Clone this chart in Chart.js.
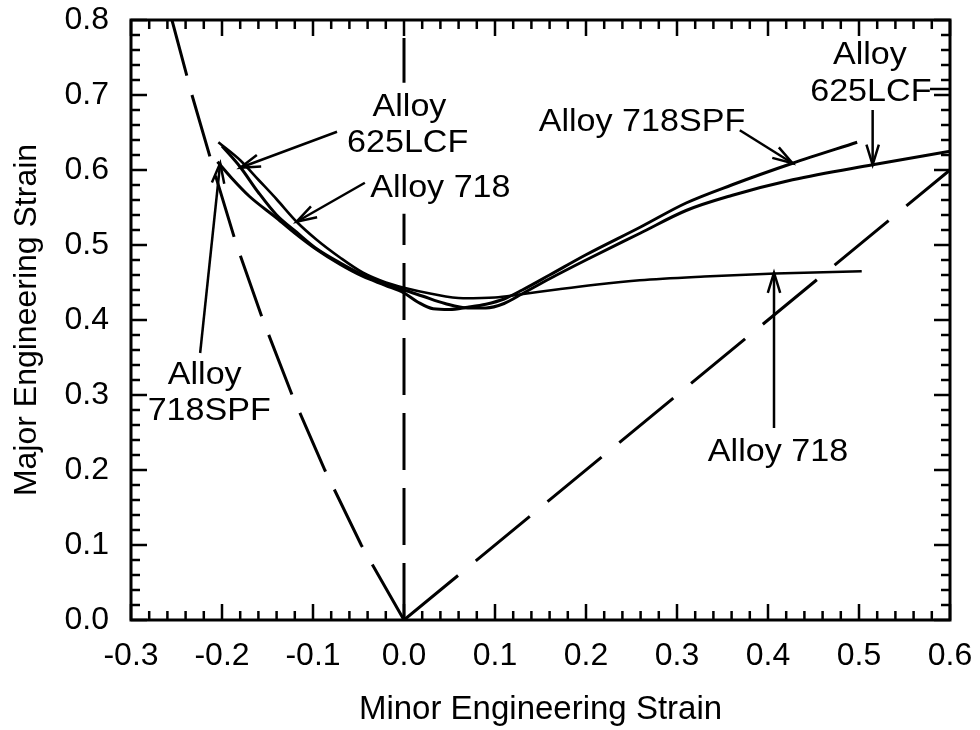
<!DOCTYPE html>
<html>
<head>
<meta charset="utf-8">
<script src="https://cdn.jsdelivr.net/npm/chart.js@4/dist/chart.umd.min.js"></script>
<style>
  html, body { margin: 0; padding: 0; background: #fff; }
</style>
</head>
<body>
<canvas id="grafica" width="980" height="730"></canvas>
<script>
// curvas limite de conformado
const minor718 = [-0.204, -0.18, -0.16, -0.14, -0.118, -0.096, -0.07, -0.045, -0.02, 0.0, 0.03, 0.065, 0.1, 0.127, 0.17, 0.21, 0.259, 0.33, 0.408, 0.503];
const major718 = [0.637, 0.613, 0.587, 0.561, 0.531, 0.507, 0.483, 0.463, 0.45, 0.443, 0.435, 0.429, 0.43, 0.434, 0.441, 0.447, 0.453, 0.458, 0.462, 0.465];

const minor718SPF = [-0.205, -0.19, -0.17, -0.14, -0.118, -0.096, -0.07, -0.045, -0.02, 0.0, 0.015, 0.032, 0.05, 0.07, 0.09, 0.11, 0.13, 0.16, 0.2, 0.26, 0.31, 0.36, 0.427, 0.498];
const major718SPF = [0.611, 0.59, 0.565, 0.536, 0.514, 0.494, 0.474, 0.458, 0.446, 0.436, 0.424, 0.415, 0.414, 0.417, 0.421, 0.428, 0.44, 0.46, 0.487, 0.524, 0.556, 0.58, 0.609, 0.637];

const minor625LCF = [-0.2, -0.18, -0.16, -0.14, -0.118, -0.096, -0.07, -0.045, -0.02, 0.0, 0.02, 0.045, 0.07, 0.09, 0.11, 0.13, 0.16, 0.2, 0.26, 0.31, 0.36, 0.427, 0.515, 0.6];
const major625LCF = [0.632, 0.604, 0.57, 0.54, 0.517, 0.495, 0.476, 0.46, 0.447, 0.44, 0.432, 0.422, 0.416, 0.416, 0.422, 0.435, 0.455, 0.48, 0.516, 0.546, 0.566, 0.587, 0.607, 0.625];

// lineas de referencia (discontinuas)
const minorUniaxial = [0, -0.047, -0.087, -0.123, -0.155, -0.184, -0.209, -0.233, -0.255];
const majorUniaxial = [0, 0.1, 0.2, 0.3, 0.4, 0.5, 0.6, 0.7, 0.8];
const minorPlana = [0, 0];
const majorPlana = [0, 0.8];
const minorBiaxial = [0, 0.6];
const majorBiaxial = [0, 0.6];

// ejes
const xMin = -0.3, xMax = 0.6, yMin = 0, yMax = 0.8;
const pasoMayor = 0.1, pasoMenor = 0.02;

// etiquetas y flechas (coordenadas de datos)
const etiquetas = [
  { texto: 'Alloy', x: 0.006, y: 0.683 },
  { texto: '625LCF', x: 0.004, y: 0.635 },
  { texto: 'Alloy 718', x: 0.04, y: 0.575 },
  { texto: 'Alloy', x: -0.219, y: 0.326 },
  { texto: '718SPF', x: -0.214, y: 0.278 },
  { texto: 'Alloy 718SPF', x: 0.2615, y: 0.664 },
  { texto: 'Alloy', x: 0.512, y: 0.753 },
  { texto: '625LCF', x: 0.513, y: 0.704 },
  { texto: 'Alloy 718', x: 0.411, y: 0.223 }
];
const flechas = [
  { x0: -0.0736, y0: 0.651, x1: -0.180, y1: 0.603, punta: true },
  { x0: -0.043, y0: 0.583, x1: -0.118, y1: 0.531, punta: true },
  { x0: -0.224, y0: 0.356, x1: -0.202, y1: 0.609, punta: true },
  { x0: 0.369, y0: 0.653, x1: 0.427, y1: 0.609, punta: true },
  { x0: 0.515, y0: 0.68, x1: 0.515, y1: 0.607, punta: true },
  { x0: 0.4066, y0: 0.256, x1: 0.4066, y1: 0.463, punta: true },
  { x0: 0.578, y0: 0.708, x1: 0.6, y1: 0.708, punta: false }
];

function puntos(xs, ys) {
  return xs.map((x, i) => ({ x: x, y: ys[i] }));
}

const FUENTE = '"Liberation Sans", Arial, Helvetica, sans-serif';
const ESTIRAR = 1.1;

const marco = {
  id: 'marco',
  afterDraw(chart) {
    const ctx = chart.ctx;
    const sx = chart.scales.x, sy = chart.scales.y;
    const a = chart.chartArea;
    ctx.save();

    // fondos blancos de las etiquetas
    ctx.font = '31px ' + FUENTE;
    ctx.textAlign = 'center';
    ctx.textBaseline = 'middle';
    etiquetas.forEach(et => {
      const px = sx.getPixelForValue(et.x), py = sy.getPixelForValue(et.y);
      const w = ctx.measureText(et.texto).width * ESTIRAR;
      ctx.fillStyle = '#fff';
      ctx.fillRect(px - w / 2 - 4, py - 25, w + 8, 50);
    });
    ctx.fillStyle = '#000';
    etiquetas.forEach(et => {
      const px = sx.getPixelForValue(et.x), py = sy.getPixelForValue(et.y);
      ctx.save();
      ctx.translate(px, py);
      ctx.scale(ESTIRAR, 1);
      ctx.fillText(et.texto, 0, 0);
      ctx.restore();
    });

    // flechas
    ctx.strokeStyle = '#000';
    ctx.lineWidth = 2.5;
    ctx.lineCap = 'butt';
    flechas.forEach(f => {
      const x0 = sx.getPixelForValue(f.x0), y0 = sy.getPixelForValue(f.y0);
      const x1 = sx.getPixelForValue(f.x1), y1 = sy.getPixelForValue(f.y1);
      ctx.beginPath();
      ctx.moveTo(x0, y0);
      ctx.lineTo(x1, y1);
      ctx.stroke();
      if (f.punta) {
        const ang = Math.atan2(y1 - y0, x1 - x0);
        const L = 21, ab = 0.3;
        ctx.beginPath();
        ctx.moveTo(x1 - L * Math.cos(ang - ab), y1 - L * Math.sin(ang - ab));
        ctx.lineTo(x1, y1);
        ctx.lineTo(x1 - L * Math.cos(ang + ab), y1 - L * Math.sin(ang + ab));
        ctx.stroke();
      }
    });

    // caja del grafico
    ctx.lineWidth = 3;
    ctx.strokeRect(a.left, a.top, a.right - a.left, a.bottom - a.top);

    // marcas hacia dentro en los cuatro lados
    ctx.lineWidth = 2.5;
    const nx = Math.round((xMax - xMin) / pasoMenor);
    for (let i = 0; i <= nx; i++) {
      const px = sx.getPixelForValue(xMin + i * pasoMenor);
      const L = (i % 5 === 0) ? 16 : 9;
      ctx.beginPath();
      ctx.moveTo(px, a.bottom); ctx.lineTo(px, a.bottom - L);
      ctx.moveTo(px, a.top); ctx.lineTo(px, a.top + L);
      ctx.stroke();
    }
    const ny = Math.round((yMax - yMin) / pasoMenor);
    for (let i = 0; i <= ny; i++) {
      const py = sy.getPixelForValue(yMin + i * pasoMenor);
      const L = (i % 5 === 0) ? 16 : 9;
      ctx.beginPath();
      ctx.moveTo(a.left, py); ctx.lineTo(a.left + L, py);
      ctx.moveTo(a.right, py); ctx.lineTo(a.right - L, py);
      ctx.stroke();
    }
    ctx.restore();
  }
};

function curva(xs, ys, ancho) {
  return {
    data: puntos(xs, ys),
    showLine: true,
    borderColor: '#000',
    borderWidth: ancho,
    pointRadius: 0,
    cubicInterpolationMode: 'monotone',
    fill: false
  };
}
function discontinua(xs, ys, patron) {
  return {
    data: puntos(xs, ys),
    showLine: true,
    borderColor: '#000',
    borderWidth: 3,
    borderDash: patron,
    pointRadius: 0,
    tension: 0,
    fill: false
  };
}

const etiquetaTick = v => (Math.abs(v) < 1e-9 ? 0 : v).toFixed(1);

const config = {
  type: 'scatter',
  data: {
    datasets: [
      discontinua(minorUniaxial, majorUniaxial, [64, 20]),
      discontinua(minorPlana, majorPlana, [57, 18]),
      discontinua(minorBiaxial, majorBiaxial, [70, 23]),
      curva(minor718, major718, 2.6),
      curva(minor718SPF, major718SPF, 3),
      curva(minor625LCF, major625LCF, 3)
    ]
  },
  options: {
    responsive: false,
    animation: false,
    devicePixelRatio: 1,
    layout: { padding: { top: 20, right: 30, left: 0, bottom: 0 } },
    plugins: { legend: { display: false }, tooltip: { enabled: false } },
    scales: {
      x: {
        type: 'linear',
        min: xMin, max: xMax,
        grid: { display: false, drawTicks: false },
        border: { display: false },
        ticks: {
          stepSize: pasoMayor,
          padding: 17,
          color: '#000',
          font: { family: FUENTE, size: 32 },
          callback: etiquetaTick
        },
        title: {
          display: true,
          text: 'Minor Engineering Strain',
          color: '#000',
          font: { family: FUENTE, size: 33 },
          padding: { top: 0, bottom: 0 }
        },
        afterFit: s => { s.height = 110; s.paddingLeft = 0; s.paddingRight = 0; }
      },
      y: {
        type: 'linear',
        min: yMin, max: yMax,
        grid: { display: false, drawTicks: false },
        border: { display: false },
        ticks: {
          stepSize: pasoMayor,
          padding: 22,
          color: '#000',
          font: { family: FUENTE, size: 32 },
          callback: etiquetaTick
        },
        title: {
          display: true,
          text: 'Major Engineering Strain',
          color: '#000',
          font: { family: FUENTE, size: 32 },
          padding: { top: 8, bottom: 0 }
        },
        afterFit: s => { s.width = 131; s.paddingTop = 0; s.paddingBottom = 0; }
      }
    }
  },
  plugins: [marco]
};

const grafica = new Chart(document.getElementById('grafica'), config);
</script>
</body>
</html>
